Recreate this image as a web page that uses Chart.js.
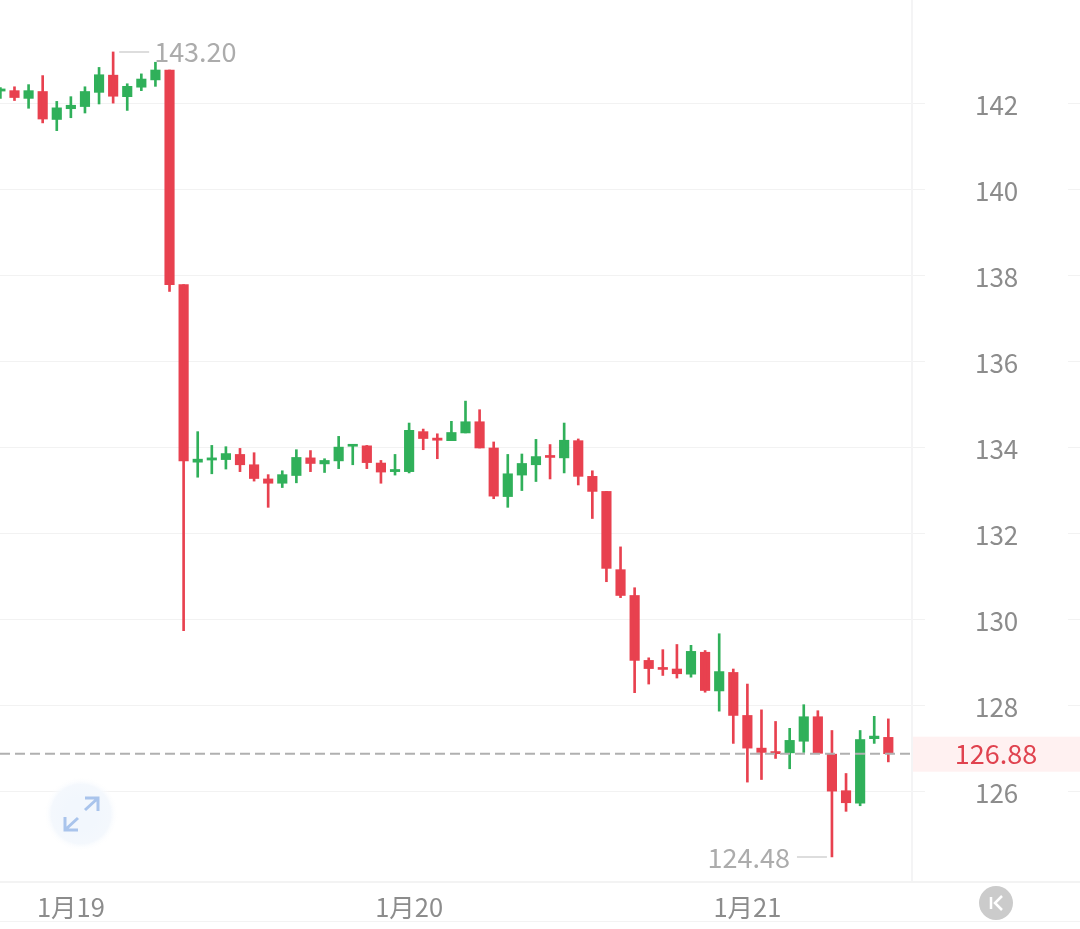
<!DOCTYPE html>
<html>
<head>
<meta charset="utf-8">
<style>html,body{margin:0;background:#fff}canvas{display:block}</style>
<script src="https://cdn.jsdelivr.net/npm/chart.js@4/dist/chart.umd.min.js"></script>
</head>
<body>
<canvas id="kline" width="1080" height="929"></canvas>
<script>
const opens = [142.29,142.30,142.12,142.28,141.63,141.88,141.93,142.26,142.66,142.16,142.38,142.55,142.78,137.79,133.66,133.71,133.72,133.84,133.60,133.27,133.17,133.35,133.76,133.62,133.69,134.03,134.04,133.64,133.44,133.44,134.37,134.22,134.16,134.34,134.60,133.99,132.86,133.36,133.60,133.80,133.76,134.16,133.33,132.98,131.16,130.56,129.05,128.88,128.85,128.73,129.24,128.34,128.77,127.77,127.01,126.93,126.90,127.17,127.74,126.87,126.02,125.73,127.23,127.26];
const highs = [142.37,142.39,142.44,142.65,142.05,142.16,142.39,142.84,143.20,142.46,142.69,142.96,142.78,137.79,134.37,134.05,134.02,133.98,133.88,133.37,133.46,133.95,133.93,133.74,134.26,134.07,134.05,133.70,133.84,134.57,134.43,134.32,134.61,135.08,134.88,134.13,133.84,133.85,134.19,134.07,134.57,134.20,133.46,132.98,131.69,130.74,129.11,129.30,129.42,129.40,129.28,129.67,128.85,128.50,127.90,127.63,127.47,128.02,127.88,127.42,126.42,127.42,127.75,127.69];
const lows = [142.12,142.07,141.89,141.55,141.37,141.67,141.78,141.99,142.01,141.84,142.30,142.40,137.63,129.74,133.31,133.39,133.50,133.44,133.22,132.61,133.07,133.18,133.44,133.42,133.51,133.60,133.51,133.17,133.36,133.41,133.95,133.74,134.16,134.34,133.99,132.81,132.61,133.00,133.21,133.27,133.41,133.13,132.35,130.88,130.51,128.30,128.50,128.70,128.64,128.66,128.31,127.87,127.12,126.22,126.28,126.77,126.53,126.91,126.89,124.48,125.54,125.67,127.12,126.69];
const closes = [142.34,142.14,142.30,141.64,141.90,141.96,142.28,142.67,142.17,142.40,142.57,142.78,137.79,133.69,133.73,133.76,133.86,133.60,133.28,133.17,133.37,133.77,133.63,133.70,134.01,134.07,133.65,133.43,133.49,134.40,134.21,134.17,134.35,134.60,133.99,132.87,133.39,133.63,133.79,133.77,134.17,133.33,132.98,131.19,130.56,129.05,128.86,128.84,128.74,129.26,128.35,128.79,127.77,127.01,126.91,126.88,127.19,127.74,126.89,126.01,125.74,127.21,127.29,126.88];
const yTicks = [126,128,130,132,134,136,138,140,142];
const dateTicks = [5,29,53];
const dateLabels = ['1月19','1月20','1月21'];
const highLabel = 143.20, highIndex = 8;
const lowLabel = 124.48, lowIndex = 59;
const lastPrice = 126.88;

const RED = '#e8414f', GREEN = '#30b05a';
const FONT = '"Noto Sans CJK SC", "Noto Sans", sans-serif';
const colors = closes.map((c, i) => c < opens[i] ? RED : GREEN);

const extras = {
    id: 'extras',
    beforeDraw(chart) {
        // les chiffres de l'axe sont un peu plus bas que la grille
        chart.scales.y.getLabelItems().forEach(it => { if (!it.moved) { it.textOffset += 1.5; it.moved = true; } });
    },
    beforeDatasetsDraw(chart) {
        const c = chart.ctx, y = chart.scales.y, area = chart.chartArea;
        const py = y.getPixelForValue(lastPrice);
        c.save();
        // bande du dernier prix, bordures et lignes de separation
        c.fillStyle = '#fff1f1';
        c.fillRect(area.right, py - 17, 1080 - area.right, 35);
        c.fillStyle = '#f4f4f5';
        c.fillRect(area.right - 1, 0, 2, area.bottom);
        c.fillStyle = '#f3f3f3';
        c.fillRect(0, area.bottom, 1080, 2);
        c.fillRect(0, 921, 1080, 1);
        c.fillStyle = '#f2f2f2';
        yTicks.forEach(v => c.fillRect(1068, Math.floor(y.getPixelForValue(v)), 12, 1));
        c.restore();
    },
    afterDatasetsDraw(chart) {
        const c = chart.ctx, x = chart.scales.x, y = chart.scales.y, area = chart.chartArea;
        const py = y.getPixelForValue(lastPrice);
        c.save();
        c.strokeStyle = '#b0b0b0';
        c.lineWidth = 2;
        c.setLineDash([10, 5]);
        c.beginPath(); c.moveTo(0, py); c.lineTo(area.right, py); c.stroke();
        c.setLineDash([]);

        c.font = '27px ' + FONT;
        c.textBaseline = 'middle';
        c.fillStyle = '#e0434f';
        c.textAlign = 'center';
        c.fillText(lastPrice.toFixed(2), 996, py);

        // etiquettes du plus haut et du plus bas
        const hx = x.getPixelForValue(highIndex), hy = y.getPixelForValue(highLabel);
        const lx = x.getPixelForValue(lowIndex), ly = y.getPixelForValue(lowLabel);
        c.strokeStyle = '#d2d2d2';
        c.lineWidth = 1.5;
        c.beginPath();
        c.moveTo(hx + 6, hy); c.lineTo(hx + 36, hy);
        c.moveTo(lx - 35, ly); c.lineTo(lx - 5, ly);
        c.stroke();
        c.fillStyle = '#acacac';
        c.textAlign = 'left';
        c.fillText(highLabel.toFixed(2), hx + 41, hy);
        c.textAlign = 'right';
        c.fillText(lowLabel.toFixed(2), lx - 42, ly + 1);

        // bouton plein ecran
        const g = c.createRadialGradient(81, 814, 16, 81, 814, 37);
        g.addColorStop(0, '#f2f7fd');
        g.addColorStop(0.65, '#f4f8fd');
        g.addColorStop(1, 'rgba(255,255,255,0)');
        c.fillStyle = g;
        c.beginPath(); c.arc(81, 814, 37, 0, Math.PI * 2); c.fill();
        c.strokeStyle = '#a9c4ec';
        c.lineWidth = 3;
        c.beginPath();
        c.moveTo(85, 810); c.lineTo(97, 799);
        c.moveTo(85, 798); c.lineTo(98, 798); c.lineTo(98, 811);
        c.moveTo(78, 818); c.lineTo(66, 829);
        c.moveTo(65, 817); c.lineTo(65, 830); c.lineTo(78, 830);
        c.stroke();

        // bouton retour
        c.fillStyle = '#cbcbcb';
        c.beginPath(); c.arc(996, 903, 17, 0, Math.PI * 2); c.fill();
        c.strokeStyle = '#fff';
        c.lineWidth = 2.5;
        c.beginPath();
        c.moveTo(991, 897); c.lineTo(991, 909);
        c.moveTo(1002, 896); c.lineTo(995, 903); c.lineTo(1002, 910);
        c.stroke();
        c.restore();
    }
};

new Chart(document.getElementById('kline').getContext('2d'), {
    type: 'bar',
    data: {
        datasets: [{
            data: highs.map((h, i) => ({ x: i, y: [lows[i], h] })),
            backgroundColor: colors,
            barThickness: 2
        }, {
            data: opens.map((o, i) => ({ x: i, y: [o, closes[i]] })),
            backgroundColor: colors,
            barThickness: 9.5,
            minBarLength: 2
        }]
    },
    options: {
        responsive: false,
        animation: false,
        layout: { padding: 0 },
        plugins: { legend: { display: false }, tooltip: { enabled: false } },
        datasets: { bar: { grouped: false } },
        scales: {
            x: {
                type: 'linear',
                offset: false,
                min: -0.028,
                max: 64.68,
                grid: { display: false },
                border: { display: false },
                afterBuildTicks: s => { s.ticks = dateTicks.map(v => ({ value: v })); },
                afterFit: s => { s.height = 48; s.paddingLeft = 0; s.paddingRight = 0; },
                ticks: {
                    autoSkip: false,
                    maxRotation: 0,
                    padding: 3,
                    color: '#8c8c8c',
                    font: { size: 25.5, family: FONT },
                    callback: v => dateLabels[dateTicks.indexOf(v)]
                }
            },
            y: {
                position: 'right',
                min: 123.92,
                max: 144.408,
                grid: { color: '#f2f2f2', tickLength: 13 },
                border: { display: false },
                afterBuildTicks: s => { s.ticks = yTicks.map(v => ({ value: v })); },
                afterFit: s => { s.width = 168; s.paddingTop = 0; s.paddingBottom = 0; },
                ticks: {
                    padding: 50,
                    color: '#8c8c8c',
                    font: { size: 26, family: FONT },
                    callback: v => v
                }
            }
        }
    },
    plugins: [extras]
});
</script>
</body>
</html>
